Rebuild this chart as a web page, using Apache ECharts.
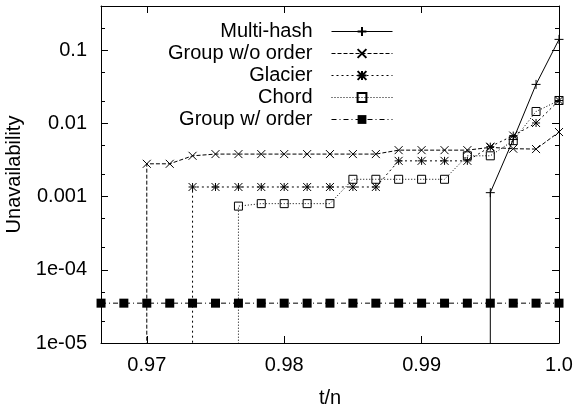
<!DOCTYPE html>
<html>
<head>
<meta charset="utf-8">
<script src="https://cdn.jsdelivr.net/npm/echarts@6/dist/echarts.min.js"></script>
<style>
html,body{margin:0;padding:0;background:#fff;}
#chart{width:575px;height:406px;}
</style>
</head>
<body>
<div id="chart"></div>
<script>
// t/n positions (t = 580..600 of n = 600)
const tn = [0.96667, 0.96833, 0.97, 0.97167, 0.97333, 0.975, 0.97667, 0.97833, 0.98, 0.98167,
            0.98333, 0.985, 0.98667, 0.98833, 0.99, 0.99167, 0.99333, 0.995, 0.99667, 0.99833, 1.0];

const seriesNames = ['Multi-hash', 'Group w/o order', 'Glacier', 'Chord', 'Group w/ order'];

const multiHash = [null, null, null, null, null, null, null, null, null, null,
                   null, null, null, null, null, null, null, 1.13e-3, 6.0e-3, 3.4e-2, 0.14];
const groupWoOrder = [null, null, 2.8e-3, 2.8e-3, 3.6e-3, 3.8e-3, 3.8e-3, 3.8e-3, 3.8e-3, 3.8e-3,
                      3.8e-3, 3.8e-3, 3.8e-3, 4.3e-3, 4.3e-3, 4.3e-3, 4.3e-3, 4.7e-3, 4.5e-3, 4.45e-3, 7.6e-3];
const glacier = [null, null, null, null, 1.35e-3, 1.35e-3, 1.35e-3, 1.35e-3, 1.35e-3, 1.35e-3,
                 1.35e-3, 1.35e-3, 1.35e-3, 3.07e-3, 3.07e-3, 3.07e-3, 3.07e-3, 4.8e-3, 6.8e-3, 1.01e-2, 2.05e-2];
const chord = [null, null, null, null, null, null, 7.4e-4, 8.0e-4, 8.0e-4, 8.0e-4,
               8.0e-4, 1.72e-3, 1.72e-3, 1.72e-3, 1.72e-3, 1.72e-3, 3.6e-3, 3.6e-3, 5.8e-3, 1.45e-2, 2.05e-2];
const groupWOrder = [3.5e-5, 3.5e-5, 3.5e-5, 3.5e-5, 3.5e-5, 3.5e-5, 3.5e-5, 3.5e-5, 3.5e-5, 3.5e-5,
                     3.5e-5, 3.5e-5, 3.5e-5, 3.5e-5, 3.5e-5, 3.5e-5, 3.5e-5, 3.5e-5, 3.5e-5, 3.5e-5, 3.5e-5];

// value used for "zero" unavailability (below the plotted range)
const BELOW_RANGE = 1e-8;

const xTicks = [0.97, 0.98, 0.99, 1.0];
const xTickLabels = ['0.97', '0.98', '0.99', '1.0'];
const yTicks = [1e-5, 1e-4, 1e-3, 1e-2, 1e-1];
const yTickLabels = ['1e-05', '1e-04', '0.001', '0.01', '0.1'];
const yMinorTicks = [2e-5, 5e-5, 2e-4, 5e-4, 2e-3, 5e-3, 2e-2, 5e-2, 2e-1];
const xMin = 0.966667, xMax = 1.0;
const yMin = 1e-5, yMax = 0.4;

const FONT = 'Liberation Sans';
const INK = '#000';

function buildData(values, dropToFloor) {
  const out = [];
  let started = false;
  values.forEach((v, i) => {
    if (v == null) return;
    if (!started && dropToFloor) out.push({ value: [tn[i], BELOW_RANGE], symbol: 'none' });
    started = true;
    out.push([tn[i], v]);
  });
  return out;
}

function labelFor(vals, labels) {
  return function (v) {
    for (let i = 0; i < vals.length; i++) {
      if (Math.abs(v - vals[i]) <= Math.abs(vals[i]) * 1e-6) return labels[i];
    }
    return '';
  };
}

const strokeSym = { color: 'rgba(0,0,0,0)', borderColor: INK, borderWidth: 1 };

const styles = [
  { data: multiHash, drop: true, symbol: 'path://M0,5L10,5M5,0L5,10', size: 9, line: 'solid', item: strokeSym },
  { data: groupWoOrder, drop: true, symbol: 'path://M0,0L10,10M10,0L0,10', size: 8, line: [4, 2], item: strokeSym },
  { data: glacier, drop: true, symbol: 'path://M0,0L10,10M10,0L0,10M0,5L10,5M5,0L5,10', size: 8, line: [2, 3], item: strokeSym },
  { data: chord, drop: true, symbol: 'path://M0,0L10,0L10,10L0,10Z', size: 8, line: [1, 2], item: strokeSym },
  { data: groupWOrder, drop: false, symbol: 'rect', size: 9, line: [5, 3, 1, 3], item: { color: INK, borderWidth: 0 } }
];

const series = styles.map((s, i) => ({
  name: seriesNames[i],
  type: 'line',
  xAxisIndex: 0,
  yAxisIndex: 0,
  data: buildData(s.data, s.drop),
  symbol: s.symbol,
  symbolSize: s.size,
  showSymbol: true,
  showAllSymbol: true,
  clip: true,
  lineStyle: { color: INK, width: 1, type: s.line },
  itemStyle: s.item,
  emphasis: { disabled: true },
  animation: false
}));

const axisLineStyle = { color: INK, width: 1 };

const chart = echarts.init(document.getElementById('chart'), null, { renderer: 'canvas' });
chart.setOption({
  backgroundColor: '#fff',
  animation: false,
  textStyle: { fontFamily: FONT, fontSize: 20, color: INK },
  grid: { left: 101, right: 16, top: 6, bottom: 63, containLabel: false, outerBoundsMode: 'none' },
  legend: {
    data: seriesNames,
    orient: 'vertical',
    align: 'right',
    right: 182,
    top: 21.5,
    padding: 0,
    itemWidth: 61,
    itemHeight: 11,
    itemGap: 2,
    selectedMode: false,
    lineStyle: { width: 1 },
    textStyle: { fontFamily: FONT, fontSize: 20, color: INK, lineHeight: 20, padding: [0, 14, 0, 0] }
  },
  xAxis: [
    {
      type: 'value', position: 'bottom', min: xMin, max: xMax,
      name: 't/n', nameLocation: 'middle', nameGap: 45,
      nameTextStyle: { fontFamily: FONT, fontSize: 20, color: INK },
      axisLine: { show: true, lineStyle: axisLineStyle },
      axisTick: { show: true, inside: true, length: 7, customValues: xTicks, lineStyle: axisLineStyle },
      axisLabel: { show: true, customValues: xTicks, formatter: labelFor(xTicks, xTickLabels), margin: 12,
                   fontFamily: FONT, fontSize: 20, color: INK },
      splitLine: { show: false }
    },
    {
      type: 'value', position: 'top', min: xMin, max: xMax,
      axisLine: { show: true, lineStyle: axisLineStyle },
      axisTick: { show: true, inside: true, length: 7, customValues: xTicks, lineStyle: axisLineStyle },
      axisLabel: { show: false },
      splitLine: { show: false }
    }
  ],
  yAxis: [
    {
      type: 'log', position: 'left', min: yMin, max: yMax,
      name: 'Unavailability', nameLocation: 'middle', nameGap: 70, nameRotate: 90,
      nameTextStyle: { fontFamily: FONT, fontSize: 20, color: INK },
      axisLine: { show: true, lineStyle: axisLineStyle },
      axisTick: { show: true, inside: true, length: 7, customValues: yTicks, lineStyle: axisLineStyle },
      axisLabel: { show: true, customValues: yTicks, formatter: labelFor(yTicks, yTickLabels), margin: 14,
                   fontFamily: FONT, fontSize: 20, color: INK },
      splitLine: { show: false }, minorTick: { show: false }
    },
    {
      type: 'log', position: 'left', min: yMin, max: yMax,
      axisLine: { show: false },
      axisTick: { show: true, inside: true, length: 4, customValues: yMinorTicks, lineStyle: axisLineStyle },
      axisLabel: { show: false },
      splitLine: { show: false }
    },
    {
      type: 'log', position: 'right', min: yMin, max: yMax,
      axisLine: { show: true, lineStyle: axisLineStyle },
      axisTick: { show: true, inside: true, length: 7, customValues: yTicks, lineStyle: axisLineStyle },
      axisLabel: { show: false },
      splitLine: { show: false }
    },
    {
      type: 'log', position: 'right', min: yMin, max: yMax,
      axisLine: { show: false },
      axisTick: { show: true, inside: true, length: 4, customValues: yMinorTicks, lineStyle: axisLineStyle },
      axisLabel: { show: false },
      splitLine: { show: false }
    }
  ],
  series: series
});
</script>
</body>
</html>
